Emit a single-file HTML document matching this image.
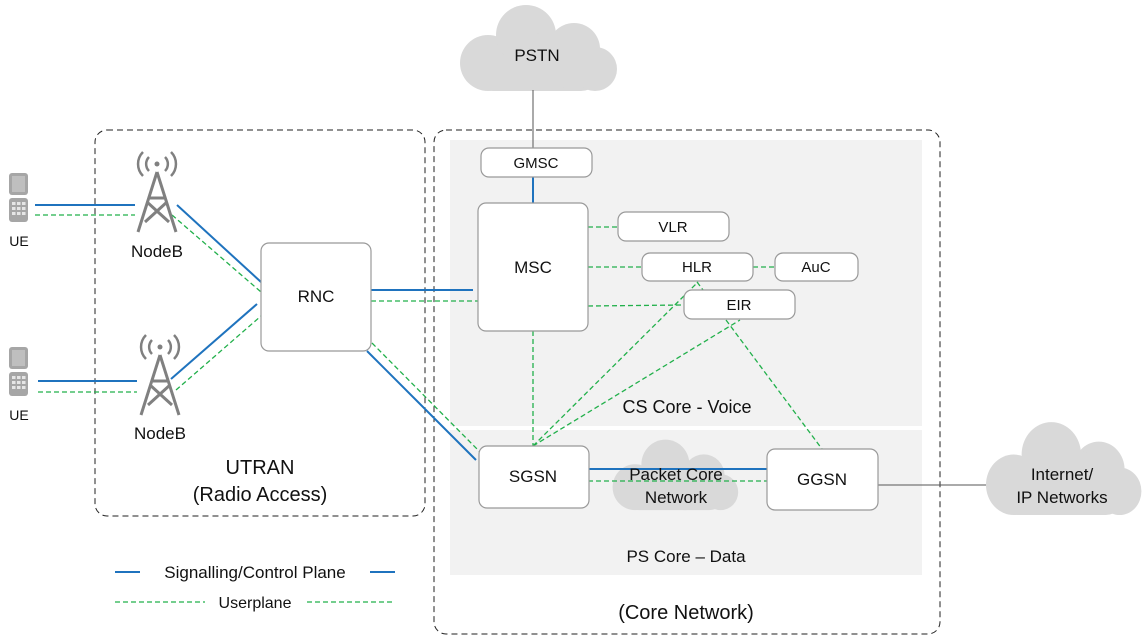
<!DOCTYPE html>
<html><head><style>
html,body{margin:0;padding:0;background:#fff}
svg{display:block}
text{font-family:"Liberation Sans",sans-serif;fill:#111}
</style></head><body>
<svg width="1142" height="638" viewBox="0 0 1142 638" xmlns="http://www.w3.org/2000/svg">
<defs>
<g id="cloud">
<rect x="15" y="48" width="128" height="40" rx="20" fill="#d9d9d9"/>
<circle cx="30" cy="60" r="28" fill="#d9d9d9"/>
<circle cx="68" cy="32" r="30" fill="#d9d9d9"/>
<circle cx="116" cy="46" r="26" fill="#d9d9d9"/>
<circle cx="137" cy="66" r="22" fill="#d9d9d9"/>
<circle cx="92" cy="58" r="30" fill="#d9d9d9"/>
</g>
<g id="tower" stroke="#808080" fill="none" stroke-width="3">
<circle cx="22" cy="14" r="2.5" fill="#808080" stroke="none"/>
<path d="M14 7 A10 10 0 0 0 14 21 M30 7 A10 10 0 0 1 30 21" stroke-width="2.5"/>
<path d="M8 2 A17 17 0 0 0 8 26 M36 2 A17 17 0 0 1 36 26" stroke-width="2.5"/>
<path d="M22 22 L3 82 M22 22 L41 82 M12 52 L34 72 M32 52 L10 72 M15 48 L29 48" stroke-width="3"/>
</g>
<g id="ue">
<rect x="0" y="0" width="19" height="22" rx="3" fill="#a6a6a6"/>
<rect x="3" y="3" width="13" height="16" fill="#bfbfbf"/>
<rect x="0" y="25" width="19" height="24" rx="3" fill="#a6a6a6"/>
<g fill="#e6e6e6"><rect x="3" y="29" width="3.5" height="3"/><rect x="8" y="29" width="3.5" height="3"/><rect x="13" y="29" width="3.5" height="3"/>
<rect x="3" y="34" width="3.5" height="3"/><rect x="8" y="34" width="3.5" height="3"/><rect x="13" y="34" width="3.5" height="3"/>
<rect x="3" y="39" width="3.5" height="3"/><rect x="8" y="39" width="3.5" height="3"/><rect x="13" y="39" width="3.5" height="3"/></g>
</g>
</defs>

<rect x="450" y="140" width="472" height="286" fill="#f2f2f2"/>
<rect x="450" y="430" width="472" height="145" fill="#f2f2f2"/>

<rect x="95" y="130" width="330" height="386" rx="12" fill="none" stroke="#222" stroke-width="1" stroke-dasharray="6,4"/>
<rect x="434" y="130" width="506" height="504" rx="12" fill="none" stroke="#222" stroke-width="1" stroke-dasharray="6,4"/>

<use href="#cloud" transform="translate(458,3)"/>
<use href="#cloud" transform="translate(984,420) scale(0.99,1.08)"/>
<use href="#cloud" transform="translate(611,438) scale(0.8,0.82)"/>

<line x1="533" y1="90" x2="533" y2="148" stroke="#555" stroke-width="1"/>
<line x1="878" y1="485" x2="986" y2="485" stroke="#555" stroke-width="1"/>

<g stroke="#1f73be" stroke-width="2" fill="none">
<line x1="533" y1="177" x2="533" y2="203"/>
<line x1="35" y1="205" x2="135" y2="205"/>
<line x1="38" y1="381" x2="137" y2="381"/>
<line x1="177" y1="205" x2="261" y2="282"/>
<line x1="171" y1="379" x2="257" y2="304"/>
<line x1="371" y1="290" x2="473" y2="290"/>
<line x1="367" y1="351" x2="476" y2="460"/>
<line x1="588" y1="469" x2="767" y2="469"/>
<line x1="115" y1="572" x2="140" y2="572"/>
<line x1="370" y1="572" x2="395" y2="572"/>
</g>
<g stroke="#22b04b" stroke-width="1.3" fill="none" stroke-dasharray="5,3">
<line x1="35" y1="215" x2="135" y2="215"/>
<line x1="38" y1="392" x2="137" y2="392"/>
<line x1="172" y1="215" x2="261" y2="292"/>
<line x1="176" y1="390" x2="261" y2="316"/>
<line x1="371" y1="301" x2="478" y2="301"/>
<line x1="372" y1="343" x2="480" y2="452"/>
<line x1="588" y1="227" x2="618" y2="227"/>
<line x1="588" y1="267" x2="642" y2="267"/>
<line x1="753" y1="267" x2="775" y2="267"/>
<line x1="588" y1="306" x2="684" y2="305"/>
<line x1="533" y1="331" x2="533" y2="446"/>
<line x1="533" y1="446" x2="698" y2="282"/>
<line x1="533" y1="446" x2="740" y2="320"/>
<line x1="697" y1="282" x2="703" y2="290"/>
<line x1="726" y1="320" x2="822" y2="449"/>
<line x1="588" y1="481" x2="767" y2="481"/>
<line x1="115" y1="602" x2="395" y2="602"/>
</g>

<g fill="#fff" stroke="#999" stroke-width="1.2">
<rect x="481" y="148" width="111" height="29" rx="8"/>
<rect x="478" y="203" width="110" height="128" rx="8"/>
<rect x="618" y="212" width="111" height="29" rx="8"/>
<rect x="642" y="253" width="111" height="28" rx="8"/>
<rect x="775" y="253" width="83" height="28" rx="8"/>
<rect x="684" y="290" width="111" height="29" rx="8"/>
<rect x="261" y="243" width="110" height="108" rx="8"/>
<rect x="479" y="446" width="110" height="62" rx="8"/>
<rect x="767" y="449" width="111" height="61" rx="8"/>
</g>

<use href="#ue" transform="translate(9,173)"/>
<use href="#ue" transform="translate(9,347)"/>
<use href="#tower" transform="translate(135,150)"/>
<use href="#tower" transform="translate(138,333)"/>

<rect x="140" y="562" width="230" height="20" fill="#fff"/>
<rect x="205" y="592" width="100" height="20" fill="#fff"/>

<g text-anchor="middle" font-size="16">
<text x="537" y="61" font-size="17">PSTN</text>
<text x="536" y="168" font-size="15">GMSC</text>
<text x="533" y="273" font-size="17">MSC</text>
<text x="673" y="232" font-size="15">VLR</text>
<text x="697" y="272" font-size="15">HLR</text>
<text x="816" y="272" font-size="15">AuC</text>
<text x="739" y="310" font-size="15">EIR</text>
<text x="316" y="302" font-size="17">RNC</text>
<text x="533" y="482" font-size="17">SGSN</text>
<text x="822" y="485" font-size="17">GGSN</text>
<text x="676" y="480" font-size="17">Packet Core</text>
<text x="676" y="503" font-size="17">Network</text>
<text x="1062" y="480" font-size="17">Internet/</text>
<text x="1062" y="503" font-size="17">IP Networks</text>
<text x="19" y="246" font-size="14">UE</text>
<text x="19" y="420" font-size="14">UE</text>
<text x="157" y="257" font-size="17">NodeB</text>
<text x="160" y="439" font-size="17">NodeB</text>
<text x="687" y="413" font-size="18">CS Core - Voice</text>
<text x="686" y="562" font-size="17">PS Core – Data</text>
<text x="686" y="619" font-size="20">(Core Network)</text>
<text x="260" y="474" font-size="20">UTRAN</text>
<text x="260" y="501" font-size="20">(Radio Access)</text>
<text x="255" y="578" font-size="17">Signalling/Control Plane</text>
<text x="255" y="608" font-size="16">Userplane</text>
</g>
</svg>
</body></html>
